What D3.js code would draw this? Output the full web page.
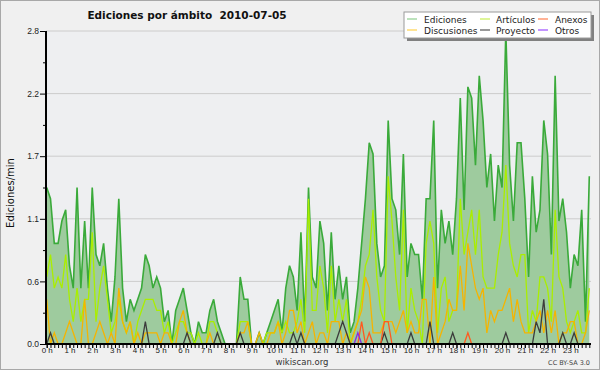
<!DOCTYPE html>
<html>
<head>
<meta charset="utf-8">
<script src="https://cdn.jsdelivr.net/npm/d3@7"></script>
<style>
  body { margin: 0; background: #f0f0f0; }
  svg { display: block; font-family: "DejaVu Sans", sans-serif; }
</style>
</head>
<body>
<svg id="chart"></svg>
<script>
// edits per 10-minute slot, 144 slots (00:00 .. 23:50)
var ediciones = [14,13,9,9,11,12,7,5,14,5, 11,5,14,8,7,9,5,2,6,13, 5,2,4,3,4,5,8,7,5,6,
  5,2,3,0,3,4,5,3,1,0, 2,1,1,3,4,2,1,0,0,0, 0,6,4,4,0,0,1,0,1,2, 3,4,1,5,7,6,3,10,2,14,
  6,5,11,9,3,10,4,7,4,6, 1,2,5,9,13,18,17,9,6,7, 20,13,12,8,17,6,9,8,8,4,
  13,13,20,5,12,9,11,8,13,22, 12,23,22,16,24,20,14,17,11,16, 14,28,16,11,18,18,13,6,15,10,
  12,20,17,8,24,11,13,10,5,8, 7,12,2,15];
var articulos = [6,8,5,6,5,8,4,2,5,2, 4,4,10,2,5,7,4,1,2,4, 2,1,2,0,2,3,4,4,4,3,
  3,1,2,0,1,2,2,1,1,0, 1,0,0,2,2,1,0,0,0,0, 0,2,2,2,0,0,0,0,1,1, 1,2,1,2,1,1,2,4,1,13,
  3,3,7,5,1,7,2,4,2,4, 0,1,2,4,7,8,12,6,3,2, 15,11,6,3,12,1,5,3,2,0,
  9,11,9,1,5,6,2,3,3,13, 8,10,12,8,12,6,5,5,5,8, 10,16,9,7,6,8,8,1,3,2,
  6,6,5,2,12,6,5,2,1,2, 3,1,1,5];
var discusiones = [4,0,1,0,0,1,2,1,0,0, 4,0,0,1,2,1,0,1,0,5, 2,1,2,0,1,0,1,1,1,1,
  0,1,1,0,0,2,3,1,0,0, 0,0,0,1,0,0,0,0,0,0, 0,1,1,2,0,0,1,0,0,1, 1,2,0,1,3,3,1,2,0,1,
  2,0,1,1,0,2,2,2,0,1, 0,1,2,3,6,5,1,1,1,2, 2,2,1,2,3,1,2,1,1,4,
  4,0,6,0,1,2,4,3,3,7, 3,9,7,5,4,5,1,3,2,3, 3,4,5,2,4,2,1,1,1,2,
  3,1,3,1,3,0,1,1,2,2, 0,0,1,3];
var proyecto = [0,1,0,0,0,0,0,0,0,0, 0,0,0,0,0,0,0,0,0,0, 0,0,0,0,0,0,2,0,0,0,
  0,0,0,0,0,0,0,1,0,0, 0,0,0,0,0,1,0,0,0,0, 0,1,0,0,0,0,0,0,0,0, 0,0,0,0,0,1,0,1,0,0,
  0,0,0,0,0,0,0,1,2,1, 0,0,0,0,0,0,0,0,0,1, 0,0,0,0,0,0,1,0,0,0,
  0,2,0,0,0,0,0,1,0,0, 0,0,0,0,0,0,0,0,0,0, 0,1,0,0,0,0,0,0,0,2,
  1,4,0,0,0,0,1,0,0,1, 0,0,0,0];
var anexos = [0,0,0,0,0,0,0,0,0,0, 0,0,0,0,0,0,0,0,0,0, 0,0,0,0,0,0,0,0,0,0,
  0,0,0,0,0,0,0,0,0,0, 0,0,0,0,0,0,0,0,0,0, 0,0,0,0,0,0,0,0,0,0, 0,0,0,0,0,0,0,0,0,0,
  0,0,0,0,0,0,0,0,0,0, 0,0,0,2,0,1,0,0,0,2, 2,0,0,0,0,0,0,0,0,0,
  0,0,0,0,0,0,0,0,0,0, 0,1,0,0,0,0,0,0,0,0, 0,0,0,0,0,0,0,0,0,0,
  0,0,0,0,0,0,0,0,0,0, 0,0,0,0];
var otros = [0,0,0,0,0,0,0,0,0,0, 0,0,0,0,0,0,0,0,0,0, 0,0,0,0,0,0,0,0,0,0,
  0,0,0,0,0,0,0,0,0,0, 0,0,0,0,0,0,0,0,0,0, 0,0,0,0,0,0,0,0,0,0, 0,0,0,0,0,0,0,0,0,0,
  0,0,0,0,0,0,0,0,0,0, 0,0,1,0,0,0,0,0,0,0, 0,0,0,0,0,0,0,0,0,0,
  0,0,0,0,0,0,0,0,0,0, 0,0,0,0,0,0,0,0,0,0, 0,0,0,0,0,0,0,0,0,0,
  0,0,0,0,0,0,0,0,0,0, 0,0,0,0];

var yTicks = [0, 0.56, 1.12, 1.68, 2.24, 2.8];
var yMinor = [0.28, 0.84, 1.4, 1.96, 2.52];
var hours = d3.range(24);
var title = "Ediciones por ámbito  2010-07-05";

var legendItems = [
  {name: "Ediciones", color: "#8fcf8f"},
  {name: "Artículos", color: "#c8ee55"},
  {name: "Anexos", color: "#ff7f50"},
  {name: "Discusiones", color: "#ffd24d"},
  {name: "Proyecto", color: "#555555"},
  {name: "Otros", color: "#9b4dff"}
];

var width = 600, height = 370;
var svg = d3.select("#chart").attr("width", width).attr("height", height);

svg.append("rect").attr("x", 0.5).attr("y", 0.5)
  .attr("width", width - 1).attr("height", height - 1)
  .attr("fill", "#f0f0f0").attr("stroke", "#a8a8a8");

var plotL = 46, plotR = 591, plotT = 31, plotB = 344;
svg.append("rect").attr("x", plotL).attr("y", plotT)
  .attr("width", plotR - plotL).attr("height", plotB - plotT).attr("fill", "#eeeff1");

var x = d3.scaleLinear().domain([0, 143]).range([46.7, 589.3]);
var y = d3.scaleLinear().domain([0, 2.8]).range([plotB, plotT]);

// grid
svg.append("g").selectAll("line").data(yTicks.slice(1)).join("line")
  .attr("x1", plotL).attr("x2", plotR)
  .attr("y1", function(d){ return y(d); }).attr("y2", function(d){ return y(d); })
  .attr("stroke", "#cccccc").attr("stroke-width", 1);

function perMin(arr){ return arr.map(function(v, i){ return {i: i, v: v / 10}; }); }

var area = d3.area().x(function(d){ return x(d.i); }).y0(plotB).y1(function(d){ return y(d.v); });
var line = d3.line().x(function(d){ return x(d.i); }).y(function(d){ return y(d.v); });

svg.append("path").datum(perMin(ediciones))
  .attr("d", area).attr("fill", "#9ecb9e");
svg.append("path").datum(perMin(ediciones))
  .attr("d", line).attr("fill", "none").attr("stroke", "#3aaa3a").attr("stroke-width", 1.6);

var series = [
  {data: articulos, color: "#aaee00"},
  {data: discusiones, color: "#f5b400"},
  {data: proyecto, color: "#3c3c3c"},
  {data: anexos, color: "#ff5a1f"},
  {data: otros, color: "#8a2be2"}
];
series.forEach(function(s){
  svg.append("path").datum(perMin(s.data))
    .attr("d", line).attr("fill", "none").attr("stroke", s.color).attr("stroke-width", 1.3);
});

// y axis
var gy = svg.append("g").attr("transform", "translate(" + plotL + ",0)")
  .call(d3.axisLeft(y).tickValues(yTicks).tickFormat(d3.format(".1f")).tickSize(6).tickPadding(1));
gy.select(".domain").remove();
gy.selectAll("text").attr("font-size", 8.5).attr("fill", "#222");
svg.append("g").attr("transform", "translate(" + plotL + ",0)")
  .call(d3.axisLeft(y).tickValues(yMinor).tickFormat("").tickSize(3))
  .select(".domain").remove();
svg.append("line").attr("x1", plotL).attr("x2", plotL).attr("y1", plotT).attr("y2", plotB + 1)
  .attr("stroke", "#000").attr("stroke-width", 2);

// x axis
var gxm = svg.append("g").attr("transform", "translate(0," + plotB + ")")
  .call(d3.axisBottom(x).tickValues(d3.range(0, 144)).tickFormat("").tickSize(4));
gxm.select(".domain").remove();
var gx = svg.append("g").attr("transform", "translate(0," + plotB + ")")
  .call(d3.axisBottom(x).tickValues(hours.map(function(h){ return h * 6; }))
    .tickFormat(function(d){ return (d / 6) + " h"; }).tickSize(4));
gx.select(".domain").remove();
gx.selectAll("text").attr("y", 3).attr("font-size", 8).attr("fill", "#222");
svg.append("line").attr("x1", plotL - 1).attr("x2", plotR).attr("y1", plotB).attr("y2", plotB)
  .attr("stroke", "#000").attr("stroke-width", 2);

// texts
svg.append("text").attr("x", 187).attr("y", 19).attr("text-anchor", "middle")
  .attr("font-size", 10.5).attr("font-weight", "bold").style("white-space", "pre")
  .attr("fill", "#111").text(title);
svg.append("text").attr("transform", "translate(14,193) rotate(-90)")
  .attr("text-anchor", "middle").attr("font-size", 10).attr("fill", "#111").text("Ediciones/min");
svg.append("text").attr("x", 302).attr("y", 365).attr("text-anchor", "middle")
  .attr("font-size", 8.5).attr("fill", "#333").text("wikiscan.org");
svg.append("text").attr("x", 590).attr("y", 365).attr("text-anchor", "end")
  .attr("font-size", 6.5).attr("fill", "#444").text("CC BY-SA 3.0");

// legend
var lg = svg.append("g");
lg.append("rect").attr("x", 407).attr("y", 15).attr("width", 187).attr("height", 26).attr("fill", "#808080");
lg.append("rect").attr("x", 404).attr("y", 12).attr("width", 187).attr("height", 26)
  .attr("fill", "#ffffff").attr("stroke", "#9a9a9a").attr("stroke-width", 1);
var colX = [407, 480, 538], textX = [424, 496, 555], rowY = [19, 30];
var items = lg.selectAll("g.item").data(legendItems).join("g").attr("class", "item");
items.append("line")
  .attr("x1", function(d, i){ return colX[i % 3]; })
  .attr("x2", function(d, i){ return colX[i % 3] + 10; })
  .attr("y1", function(d, i){ return rowY[Math.floor(i / 3)]; })
  .attr("y2", function(d, i){ return rowY[Math.floor(i / 3)]; })
  .attr("stroke", function(d){ return d.color; }).attr("stroke-width", 1.2);
items.append("text")
  .attr("x", function(d, i){ return textX[i % 3]; })
  .attr("y", function(d, i){ return rowY[Math.floor(i / 3)] + 3.5; })
  .attr("font-size", 9).attr("fill", "#222").text(function(d){ return d.name; });
</script>
</body>
</html>
